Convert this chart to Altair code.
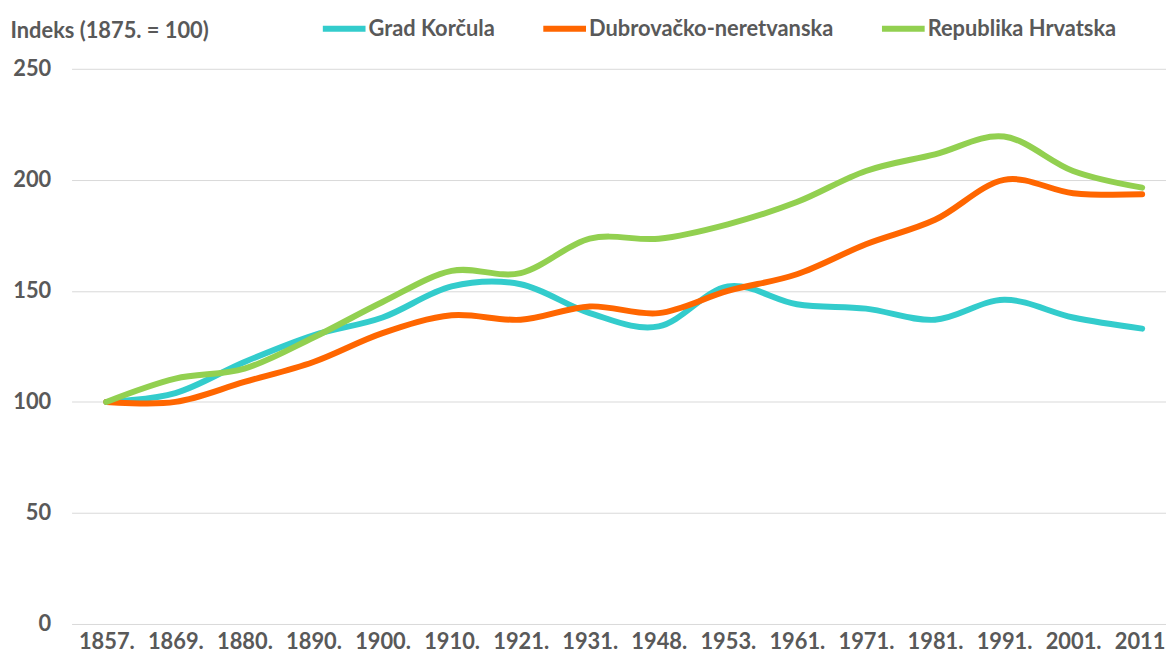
import altair as alt
import pandas as pd

years = ["1857.", "1869.", "1880.", "1890.", "1900.", "1910.", "1921.", "1931.",
         "1948.", "1953.", "1961.", "1971.", "1981.", "1991.", "2001.", "2011."]
series = ["Grad Korčula", "Dubrovačko-neretvanska", "Republika Hrvatska"]
korcula = [100, 104, 118, 130, 138, 152, 153, 140, 134, 152, 144, 142, 137, 146, 138, 133]
dubrovnik = [100, 100, 109, 118, 131, 139, 137, 143, 140, 150, 157.5, 171, 182, 200, 194, 193.5]
hrvatska = [100, 110.5, 115, 129, 145, 159, 158, 173.5, 173.5, 180, 190, 204, 211.5, 219.5, 204, 196.5]
colors = ["#33CCCC", "#FF6600", "#92D050"]

rows = []
for name, vals in zip(series, [korcula, dubrovnik, hrvatska]):
    for i, (y, v) in enumerate(zip(years, vals)):
        rows.append({"Godina": y, "Serija": name, "Indeks": v, "order": i})
df = pd.DataFrame(rows)

FONT = "Lato"
GREY = "#595959"
FS = 22

chart = alt.Chart(df).mark_line(
    interpolate="cardinal", strokeWidth=6, strokeCap="round", strokeJoin="round"
).encode(
    x=alt.X("Godina:O", sort=years,
            scale=alt.Scale(type="point", padding=0.4243, align=0.593),
            axis=alt.Axis(title=None, labelAngle=0, domain=False, ticks=False,
                          labelPadding=8, labelFont=FONT, labelFontSize=FS,
                          labelFontWeight="bold", labelColor=GREY, grid=False)),
    y=alt.Y("Indeks:Q", scale=alt.Scale(domain=[0, 250], nice=False),
            axis=alt.Axis(values=[0, 50, 100, 150, 200, 250], title="Indeks (1875. = 100)",
                          titleAngle=0, titleAlign="left", titleBaseline="middle",
                          titleX=-62, titleY=-39, titleFont=FONT, titleFontSize=FS,
                          titleFontWeight="bold", titleColor=GREY,
                          domain=False, ticks=False, labelPadding=21,
                          labelFont=FONT, labelFontSize=FS, labelFontWeight="bold",
                          labelColor=GREY, grid=True, gridColor="#d9d9d9", gridWidth=1)),
    color=alt.Color("Serija:N", sort=series,
                    scale=alt.Scale(domain=series, range=colors),
                    legend=alt.Legend(title=None, orient="none", direction="horizontal",
                                      legendX=250, legendY=-65, padding=0,
                                      symbolType="stroke", symbolStrokeWidth=6,
                                      symbolSize=1849, labelOffset=0, columnPadding=36,
                                      labelLimit=0,
                                      labelFont=FONT, labelFontSize=FS, labelFontWeight="bold",
                                      labelColor=GREY)),
    order="order:Q",
).properties(
    width=1102, height=559,
    autosize=alt.AutoSizeParams(type="none"),
    padding={"left": 64, "top": 59, "right": 0, "bottom": 29},
).configure_view(stroke=None)

chart.save("out.html", embed_options={"renderer": "svg", "actions": False})
